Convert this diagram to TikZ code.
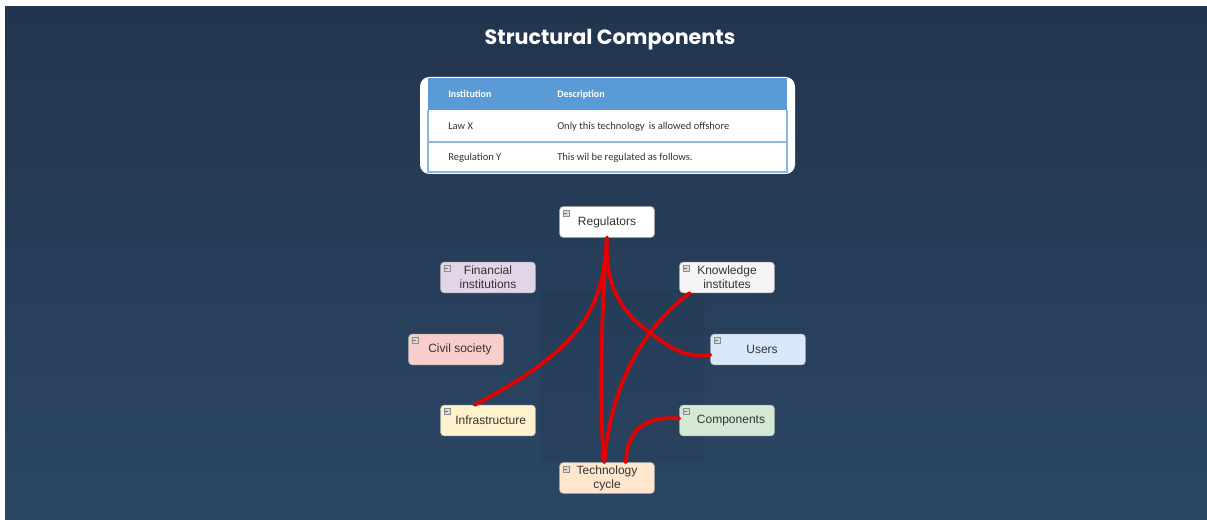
\documentclass[tikz,border=0pt]{standalone}
\usepackage{fontspec}
\setmainfont{Liberation Sans}
\newfontfamily\titlefont{Poppins}
\newfontfamily\tablefont{Carlito}
\usetikzlibrary{arrows.meta}

\definecolor{bgtop}{HTML}{22354E}
\definecolor{bgbot}{HTML}{2B4765}
\definecolor{hdrblue}{HTML}{5B9BD5}
\definecolor{rowline}{HTML}{8DB4E2}
\definecolor{linkred}{HTML}{E60000}
\definecolor{nodetext}{HTML}{333333}
\definecolor{cWhite}{HTML}{FFFFFF}
\definecolor{cLavender}{HTML}{E1D5E7}
\definecolor{cGrey}{HTML}{F5F5F5}
\definecolor{cPink}{HTML}{F8CECC}
\definecolor{cBlue}{HTML}{DAE8FC}
\definecolor{cYellow}{HTML}{FFF2CC}
\definecolor{cGreen}{HTML}{D5E8D4}
\definecolor{cOrange}{HTML}{FFE6CC}

\tikzset{
  mapbox/.style={draw=black!30, line width=0.4pt, rounded corners=2.5pt,
    minimum width=71pt, minimum height=23pt, inner sep=1pt, align=center,
    text=nodetext, font=\fontsize{9}{10.5}\selectfont},
  cell/.style={anchor=west, inner sep=0pt, text=black!80,
    font=\tablefont\fontsize{7.9}{9}\selectfont},
  headcell/.style={cell, text=white, font=\tablefont\bfseries\fontsize{7.5}{9}\selectfont},
  link/.style={draw=linkred, line width=2.8pt, line cap=round},
  togglemark/.pic={
    \draw[black!45, fill=black!15, line width=0.3pt] (0,0) rectangle (6,6);
    \draw[black!55, line width=0.3pt] (1.5,3) -- (4.5,3);
  }
}

\begin{document}
\begin{tikzpicture}[x=0.75pt, y=-0.75pt]
  % page and background
  \fill[white] (0,0) rectangle (1207,520);
  \shade[top color=bgtop, bottom color=bgbot] (5,7) rectangle (1207,520);
  \useasboundingbox (0,0) rectangle (1207,520);

  % title
  \node[text=white, font=\titlefont\bfseries\fontsize{15.5}{18}\selectfont]
    (title) at (610,39.5) {Structural Components};

  % table
  \fill[white, rounded corners=7pt] (420,77) rectangle (795,174);
  \fill[hdrblue] (428,78) rectangle (787,110);
  \draw[rowline, line width=0.8pt] (428,110) -- (428,172) -- (787,172) -- (787,110);
  \draw[rowline, line width=1pt] (428,142) -- (787,142);
  \node[headcell] (h1) at (448,94.5) {Institution};
  \node[headcell] (h2) at (557,94.5) {Description};
  \node[cell] (r1a) at (448,126.5) {Law X};
  \node[cell] (r1b) at (557,126.5) {Only this technology\, is allowed offshore};
  \node[cell] (r2a) at (448,157.5) {Regulation Y};
  \node[cell] (r2b) at (557,157.5) {This wil be regulated as follows.};

  % faint panel behind the lower links
  \fill[black, opacity=0.04] (540,290) rectangle (705,462);

  % concept boxes
  \node[mapbox, fill=cWhite]    (reg)   at (607,222) {Regulators};
  \node[mapbox, fill=cLavender] (fin)   at (488,277.5) {Financial\\institutions};
  \node[mapbox, fill=cGrey]     (know)  at (727,277.5) {Knowledge\\institutes};
  \node[mapbox, fill=cPink]     (civil) at (456,349.5) {\hspace*{6pt}Civil society};
  \node[mapbox, fill=cBlue]     (users) at (758,349.5) {\hspace*{6pt}Users};
  \node[mapbox, fill=cYellow]   (infra) at (488,420.5) {\hspace*{4pt}Infrastructure};
  \node[mapbox, fill=cGreen]    (comp)  at (727,420.5) {\hspace*{6pt}Components};
  \node[mapbox, fill=cOrange]   (tech)  at (607,478) {Technology\\cycle};

  % collapse markers in the top-left corners
  \foreach \n in {reg,fin,know,civil,users,infra,comp,tech}
    \pic at ([xshift=2.5pt,yshift=-2.5pt]\n.north west) {togglemark};

  % links
  \draw[link] (reg.south) .. controls (603,310) and (582,348) .. ([xshift=-10pt]infra.north);
  \draw[link, -{Stealth[length=7pt,width=7pt]}]
    (reg.south) .. controls (600,330) and (600,420) .. ([xshift=-2pt]tech.north);
  \draw[link] (reg.south) .. controls (603,305) and (640,325) .. (660,340)
    .. controls (680,355) and (695,357) .. ([yshift=-4pt]users.west);
  \draw[link] ([xshift=-28pt]know.south) .. controls (640,330) and (610,390) .. ([xshift=-2pt]tech.north);
  \draw[link] ([yshift=1.5pt]comp.west) .. controls (640,415) and (627,435) .. ([xshift=14pt]tech.north);
\end{tikzpicture}
\end{document}
